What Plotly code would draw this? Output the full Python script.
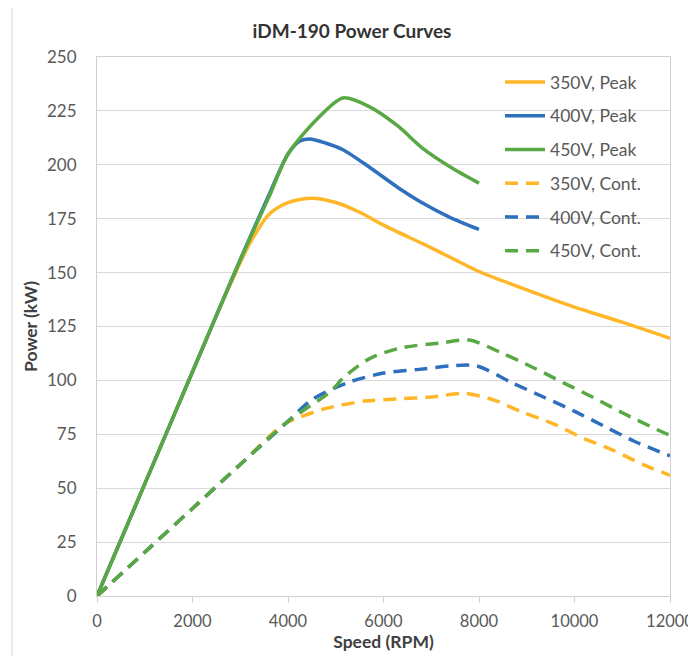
import plotly.graph_objects as go

# ---- data ----
p350_rpm = [0, 1000, 2000, 2800, 3200, 3600, 4000, 4500, 5000, 5500, 6000, 7000, 8000, 9000, 10000, 11000, 12000]
p350_kw = [0, 52, 104, 145, 163.5, 177, 182.5, 184.5, 182.5, 178, 172, 161.5, 150.5, 142, 134, 127, 119.5]

p400_rpm = [0, 1000, 2000, 3000, 3600, 4000, 4250, 4450, 4800, 5150, 5700, 6300, 6800, 7400, 8000]
p400_kw = [0, 52, 104, 156, 186, 205, 211, 212, 210, 207, 199, 189.5, 182.5, 175.5, 170]

p450_rpm = [0, 1000, 2000, 3000, 3600, 4000, 4600, 5150, 5700, 6300, 6800, 7400, 8000]
p450_kw = [0, 52, 104, 156, 185, 205, 221, 231, 227, 218, 208, 199, 191.5]

c350_rpm = [0, 1000, 2000, 3000, 3900, 4250, 4800, 5600, 6300, 7000, 7700, 8300, 8900, 9550, 10200, 10800, 11450, 12000]
c350_kw = [0, 20.3, 40.6, 61, 79.5, 83, 87, 90.4, 91.4, 92.3, 94, 91, 85.3, 80, 73, 67.7, 60.8, 56]

c400_rpm = [0, 1000, 2000, 3000, 4000, 4500, 5230, 6000, 6700, 7400, 7950, 8700, 9350, 9970, 10600, 11230, 12000]
c400_kw = [0, 20.3, 40.6, 61, 81, 91, 98.8, 103.4, 105, 106.7, 106.7, 98.8, 92.3, 86, 79, 72, 65]

c450_rpm = [0, 1000, 2000, 3000, 4000, 4900, 5150, 5700, 6350, 7200, 7800, 8450, 9130, 9760, 10400, 11000, 11750, 12000]
c450_kw = [0, 20.3, 40.6, 61, 81, 95, 101, 110, 115, 117.4, 118.7, 113, 106, 99, 92, 85, 77, 74.5]

x_ticks = [0, 2000, 4000, 6000, 8000, 10000, 12000]
x_tick_labels = ["0", "2000", "4000", "6000", "8000", "10000", "12000"]
y_ticks = [0, 25, 50, 75, 100, 125, 150, 175, 200, 225, 250]

ORANGE = "#FFB629"
BLUE = "#2E6FBE"
GREEN = "#58A843"

series = [
    ("350V, Peak", p350_rpm, p350_kw, ORANGE, "solid"),
    ("400V, Peak", p400_rpm, p400_kw, BLUE, "solid"),
    ("450V, Peak", p450_rpm, p450_kw, GREEN, "solid"),
    ("350V, Cont.", c350_rpm, c350_kw, ORANGE, "13px,8px"),
    ("400V, Cont.", c400_rpm, c400_kw, BLUE, "13px,8px"),
    ("450V, Cont.", c450_rpm, c450_kw, GREEN, "13px,8px"),
]

fig = go.Figure()
for name, xs, ys, col, dash in series:
    fig.add_trace(go.Scatter(
        x=xs, y=ys, name=name, mode="lines", legendgroup=name,
        line=dict(color=col, width=3.5, dash=dash, shape="spline", smoothing=0.8),
    ))

FONT = "Lato, 'Open Sans', sans-serif"
FS = 17.5
# page body has an 8px offset; figure coordinates = screen - 8
OFF = 8
W, H = 688, 648
L, T = 97 - OFF, 57 - OFF
R = W - (670 - OFF)
B = H - (596 - OFF)
pw, ph = W - L - R, H - T - B


def px_x(sx):
    return (sx - OFF - L) / pw


def px_y(sy):
    return (596 - sy) / ph


fig.update_layout(
    width=W, height=H,
    margin=dict(l=L, r=R, t=T, b=B, autoexpand=False),
    paper_bgcolor="white", plot_bgcolor="white",
    font=dict(family=FONT, size=FS, color="#595959"),
    title=dict(text="<b>iDM-190 Power Curves</b>", x=0.5, xref="container", xanchor="center",
               y=1 - (31 - OFF) / H, yref="container", yanchor="middle",
               font=dict(family=FONT, size=19, color="#333333")),
    showlegend=True,
    legend=dict(x=px_x(500), y=px_y(64), xanchor="left", yanchor="top",
                bgcolor="rgba(255,255,255,0)", tracegroupgap=8,
                font=dict(family=FONT, size=FS, color="#595959"),
                itemwidth=40),
    xaxis=dict(range=[0, 12000], tickvals=x_ticks, ticktext=x_tick_labels,
               showgrid=False, zeroline=False, automargin=False,
               showline=True, linecolor="#D0D0D0", linewidth=1, mirror=True,
               ticks="outside", ticklen=6, tickcolor="#D0D0D0", ticklabelstandoff=4,
               tickfont=dict(size=16.5),
               title=dict(text="<b>Speed (RPM)</b>", standoff=3,
                          font=dict(family=FONT, size=FS, color="#404040"))),
    yaxis=dict(range=[0, 250], tickvals=y_ticks, showgrid=True, gridcolor="#D9D9D9",
               zeroline=False, showline=True, linecolor="#D0D0D0", linewidth=1, mirror=True,
               ticks="", ticklabelstandoff=16, tickfont=dict(size=17), automargin=False,
               title=dict(text="<b>Power (kW)</b>", standoff=4,
                          font=dict(family=FONT, size=FS, color="#404040"))),
    shapes=[dict(type="rect", xref="paper", yref="paper",
                 x0=px_x(12), x1=px_x(730),
                 y0=px_y(700), y1=px_y(6),
                 line=dict(color="#D9D9D9", width=1), fillcolor="rgba(0,0,0,0)", layer="below")],
)

fig.write_html("out.html")
